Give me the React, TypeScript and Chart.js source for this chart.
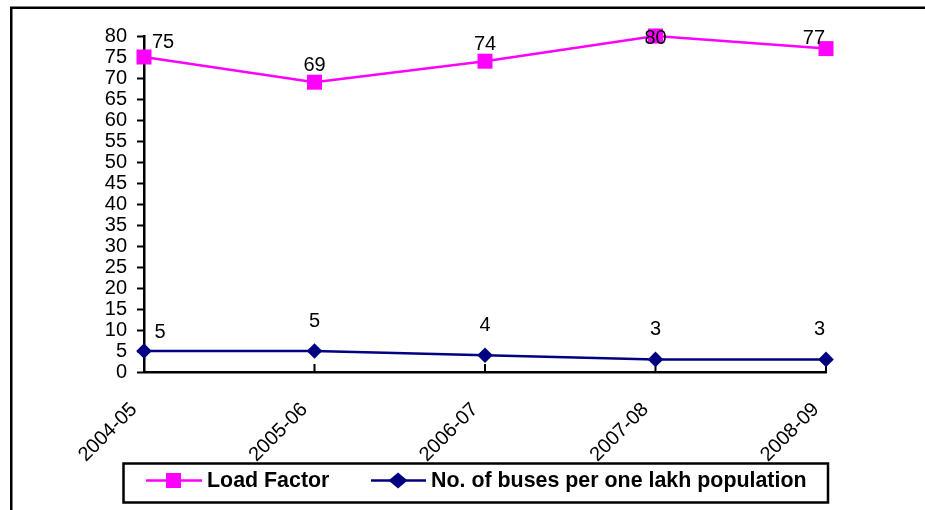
import React, { useEffect, useRef } from "react";
import { Chart, registerables } from "chart.js";

Chart.register(...registerables);

const categories = ["2004-05", "2005-06", "2006-07", "2007-08", "2008-09"];
const loadFactor = [75, 69, 74, 80, 77];
const busesPerLakh = [5, 5, 4, 3, 3];
const seriesNames = ["Load Factor", "No. of buses per one lakh population"];
const yMin = 0;
const yMax = 80;
const yStep = 5;

const FONT = '"Liberation Sans", Arial, Helvetica, sans-serif';
const PINK = "#FF00FF";
const NAVY = "#000080";

// label placement per dataset (offsets above the point)
const LABEL_CFG = [
  { dy: 18, firstDx: 19, firstDy: 16 },
  { dy: 31, firstDx: 16, firstDy: 20 },
];

const valueLabels = {
  id: "valueLabels",
  afterDatasetsDraw(chart: any) {
    const ctx = chart.ctx;
    const area = chart.chartArea;
    ctx.save();
    ctx.font = `20px ${FONT}`;
    ctx.fillStyle = "#000";
    ctx.textAlign = "center";
    ctx.textBaseline = "middle";
    chart.data.datasets.forEach((ds: any, di: number) => {
      const meta = chart.getDatasetMeta(di);
      const cfg = LABEL_CFG[di];
      meta.data.forEach((pt: any, i: number) => {
        const text = String(ds.data[i]);
        const w = ctx.measureText(text).width;
        let x = pt.x;
        let y = pt.y - cfg.dy;
        if (i === 0) {
          x += cfg.firstDx;
          y = pt.y - cfg.firstDy;
        }
        x = Math.min(x, area.right - 1 - w / 2);
        y = Math.max(y, area.top + 1);
        ctx.fillText(text, x, y + 1);
      });
    });
    ctx.restore();
  },
};

const xInnerTicks = {
  id: "xInnerTicks",
  beforeDatasetsDraw(chart: any) {
    const ctx = chart.ctx;
    const xs = chart.scales.x;
    const bottom = chart.chartArea.bottom;
    ctx.save();
    ctx.strokeStyle = "#000";
    ctx.lineWidth = 2;
    categories.forEach((_, i) => {
      const x = xs.getPixelForValue(i);
      ctx.beginPath();
      ctx.moveTo(x, bottom);
      ctx.lineTo(x, bottom - 8);
      ctx.stroke();
    });
    ctx.restore();
  },
};

const frameAndLegend = {
  id: "frameAndLegend",
  afterDraw(chart: any) {
    const ctx = chart.ctx;
    ctx.save();
    // outer frame (left and top edges visible)
    ctx.strokeStyle = "#000";
    ctx.lineWidth = 2.5;
    ctx.beginPath();
    ctx.moveTo(11.25, 530);
    ctx.lineTo(11.25, 7.75);
    ctx.lineTo(940, 7.75);
    ctx.stroke();

    // legend box
    ctx.lineWidth = 2.5;
    ctx.strokeRect(123.5, 463.5, 704.5, 39);

    const cy = 480.5;
    ctx.font = `bold 21.4px ${FONT}`;
    ctx.textBaseline = "middle";
    ctx.textAlign = "left";

    // item 1
    ctx.strokeStyle = PINK;
    ctx.fillStyle = PINK;
    ctx.lineWidth = 2.5;
    ctx.beginPath();
    ctx.moveTo(146, cy);
    ctx.lineTo(202, cy);
    ctx.stroke();
    ctx.fillRect(166, cy - 7.5, 15, 15);
    ctx.fillStyle = "#000";
    ctx.fillText(seriesNames[0], 207, cy + 1);

    // item 2
    ctx.strokeStyle = NAVY;
    ctx.fillStyle = NAVY;
    ctx.beginPath();
    ctx.moveTo(371, cy);
    ctx.lineTo(426, cy);
    ctx.stroke();
    ctx.beginPath();
    ctx.moveTo(398, cy - 8);
    ctx.lineTo(407.5, cy);
    ctx.lineTo(398, cy + 8);
    ctx.lineTo(388.5, cy);
    ctx.closePath();
    ctx.fill();
    ctx.fillStyle = "#000";
    ctx.fillText(seriesNames[1], 431, cy + 1);
    ctx.restore();
  },
};

export default function App() {
  const ref = useRef<HTMLCanvasElement>(null);
  useEffect(() => {
    if (!ref.current) return;
    const chart = new Chart(ref.current, {
      type: "line",
      data: {
        labels: categories,
        datasets: [
          {
            label: seriesNames[0],
            data: loadFactor,
            borderColor: PINK,
            backgroundColor: PINK,
            pointBackgroundColor: PINK,
            pointBorderColor: PINK,
            pointBorderWidth: 0,
            pointStyle: "rect",
            pointRadius: 10.6,
            borderWidth: 2.5,
            tension: 0,
            clip: false as any,
          },
          {
            label: seriesNames[1],
            data: busesPerLakh,
            borderColor: NAVY,
            backgroundColor: NAVY,
            pointBackgroundColor: NAVY,
            pointBorderColor: NAVY,
            pointBorderWidth: 0,
            pointStyle: "rectRot",
            pointRadius: 7.8,
            borderWidth: 2.5,
            tension: 0,
            clip: false as any,
          },
        ],
      },
      options: {
        responsive: false,
        devicePixelRatio: 1,
        animation: false,
        events: [],
        layout: { padding: { left: 0, top: 36, right: 99, bottom: 0 } },
        plugins: {
          legend: { display: false },
          tooltip: { enabled: false },
          title: { display: false },
        },
        scales: {
          x: {
            type: "category",
            offset: false,
            grid: { display: false },
            border: { display: true, color: "#000", width: 2.5 },
            ticks: {
              autoSkip: false,
              maxRotation: 45,
              minRotation: 45,
              padding: 18,
              labelOffset: -10,
              color: "#000",
              font: { family: FONT, size: 20 },
            },
            afterFit: (s: any) => {
              s.height = 138;
            },
          },
          y: {
            min: yMin,
            max: yMax,
            grid: {
              drawOnChartArea: false,
              drawTicks: true,
              tickLength: 7,
              tickWidth: 2,
              tickColor: "#000",
            },
            border: { display: true, color: "#000", width: 2.5 },
            ticks: {
              stepSize: yStep,
              autoSkip: false,
              padding: 10,
              color: "#000",
              font: { family: FONT, size: 20 },
            },
            afterFit: (s: any) => {
              s.width = 144;
            },
          },
        },
      },
      plugins: [xInnerTicks, valueLabels, frameAndLegend],
    });
    return () => chart.destroy();
  }, []);
  return (
    <div style={{ position: "absolute", left: 0, top: 0, width: 925, height: 510, background: "#fff" }}>
      <canvas ref={ref} width={925} height={510} style={{ width: 925, height: 510, display: "block" }} />
    </div>
  );
}
